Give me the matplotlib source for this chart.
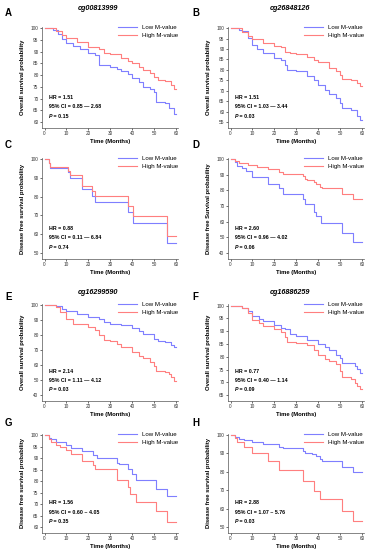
import matplotlib
matplotlib.use("Agg")
import matplotlib.pyplot as plt

plt.rcParams['font.family'] = ['Liberation Sans', 'DejaVu Sans']

# ---------------- data ----------------
titles = ["cg00813999", "cg26848126", None, None, "cg16299590", "cg16886259", None, None]
letters = ["A", "B", "C", "D", "E", "F", "G", "H"]
ylabels = ["Overall survival probability", "Overall survival probability",
           "Disease free survival probability", "Disease free Survival probability",
           "Overall survival probability", "Overall survival probability",
           "Disease free survival probability", "Disease free survival probability"]
ylow = [60, 55, 50, 40, 40, 65, 60, 50]
ystep = [5, 5, 10, 10, 10, 5, 5, 10]
hr_text = ["HR = 1.51", "HR = 1.51", "HR = 0.88", "HR = 2.60",
           "HR = 2.14", "HR = 0.77", "HR = 1.56", "HR = 2.88"]
ci_text = ["95% CI = 0.85 \u2014 2.68", "95% CI = 1.03 \u2014 3.44", "95% CI = 0.11 \u2014 6.84",
           "95% CI = 0.96 \u2014 4.02", "95% CI = 1.11 \u2014 4.12", "95% CI = 0.40 \u2014 1.14",
           "95% CI = 0.60 ~ 4.05", "95% CI = 1.07 ~ 5.76"]
p_text = ["0.15", "0.03", "0.74", "0.06", "0.03", "0.09", "0.35", "0.03"]
xticks = [0, 10, 20, 30, 40, 50, 60]

# Kaplan-Meier step points (time in months, survival %)
A_low_t = [0, 4, 6, 8, 10, 13, 16, 20, 23, 25, 30, 33, 35, 38, 40, 43, 45, 48, 50, 51, 55, 57, 59, 60]
A_low_s = [100, 99.5, 97.5, 95.5, 93.6, 92.5, 91, 89.3, 88.5, 84.3, 83.6, 82.5, 81.9, 80.5, 78.6, 77, 74.8, 74, 73, 68.7, 68, 65.8, 63.3, 63.3]
A_high_t = [0, 5, 8, 10, 15, 20, 25, 27, 30, 35, 38, 40, 43, 45, 48, 50, 52, 55, 58, 59, 60]
A_high_s = [100, 99, 97, 95.7, 94.3, 92.2, 91, 89.3, 88.9, 87.2, 86, 85, 83.5, 82.2, 80.8, 79.4, 78, 77.5, 75.8, 74, 74]

B_low_t = [0, 4, 5, 8, 10, 12, 15, 20, 23, 25, 26, 30, 35, 38, 40, 43, 45, 48, 50, 51, 55, 58, 59, 60]
B_low_s = [100, 99, 98.7, 95.2, 92, 90, 88, 85.6, 84.8, 82.5, 80, 79.6, 77.2, 75.3, 72.9, 70.5, 68.4, 66.5, 64.1, 61.7, 60.9, 57.7, 56.1, 56.1]
B_high_t = [0, 5, 8, 10, 15, 20, 23, 25, 27, 30, 35, 38, 40, 45, 48, 50, 51, 55, 58, 59, 60]
B_high_s = [100, 98.4, 96.5, 94.9, 92.8, 91.5, 90.9, 88.8, 88, 87.6, 86.1, 84.8, 84, 80.9, 79.7, 77.7, 75.8, 75.3, 73.7, 72.1, 72.1]

C_low_t = [0, 2, 2.5, 10.5, 11.5, 17, 21.5, 23, 38, 40.5, 56, 60]
C_low_s = [100, 97.7, 95.5, 93, 90.2, 84.1, 80.6, 77.1, 71.9, 65.9, 55.2, 55.2]
C_high_t = [0, 2, 2.5, 10.5, 11.5, 17, 21.5, 23, 38, 40.5, 56, 60]
C_high_s = [100, 98, 96, 93.7, 91.6, 85.8, 82.9, 80.2, 75, 69.8, 59.1, 59.1]

D_low_t = [0, 2, 3, 5, 7, 10, 17, 22, 24, 33, 34, 38, 39, 41.5, 51, 56, 60]
D_low_s = [100, 98.3, 95.8, 94.2, 92.1, 88.3, 83.8, 81.2, 77.9, 74.4, 71.2, 66, 63.3, 58.8, 52.5, 46.7, 46.7]
D_high_t = [0, 2, 4, 8, 12, 17, 22, 24, 33, 34, 35, 38, 39, 41, 42, 51, 56, 60]
D_high_s = [100, 98.8, 97.5, 96.3, 94.8, 93.3, 91.7, 90.6, 88.9, 87.5, 86.5, 85.2, 83.8, 82.3, 81.2, 77.9, 74.4, 74.4]

E_low_t = [0, 5, 8, 10, 15, 20, 25, 27, 30, 35, 40, 43, 45, 50, 52, 55, 58, 59, 60]
E_low_s = [100, 99.4, 97.4, 95.7, 94, 92.1, 90.4, 88.7, 87.6, 86.5, 84.4, 82.9, 80.7, 77.5, 75.8, 75.4, 73.2, 71.7, 71.7]
E_high_t = [0, 5, 7, 10, 13, 15, 20, 23, 25, 27, 30, 33, 35, 40, 43, 45, 48, 50, 51, 55, 57, 58, 59, 60]
E_high_s = [100, 98.9, 95.3, 90.4, 87.6, 87.2, 85, 83.3, 79.7, 76.4, 75.8, 74.3, 72.2, 69, 66.2, 64.7, 61.9, 59.3, 56.1, 55.7, 54, 51.8, 49.7, 49.7]

F_low_t = [0, 5, 8, 10, 13, 15, 20, 23, 25, 27, 30, 35, 40, 43, 45, 48, 50, 51, 55, 57, 58, 59, 60]
F_low_s = [100, 99, 97.8, 96, 94.7, 93.8, 92.3, 91.3, 90.7, 88.8, 88.2, 86.6, 85.1, 83.9, 82.6, 80.8, 79.5, 77.7, 77.4, 76.4, 75.2, 73.7, 73.7]
F_high_t = [0, 5, 8, 10, 13, 15, 20, 23, 25, 26, 30, 35, 38, 40, 43, 45, 48, 50, 51, 55, 57, 58, 59, 60]
F_high_s = [100, 99, 96.9, 94.4, 93.2, 91.9, 90.7, 89.5, 87.6, 85.7, 85.4, 84.5, 82.6, 80.8, 79.2, 78.3, 77, 74.6, 72.1, 71.5, 69.6, 68.4, 67.5, 67.5]

G_low_t = [0, 2, 3, 5, 10, 12, 17, 22, 24, 33, 34, 38, 40, 42, 51, 56, 60]
G_low_s = [100, 99, 98.2, 97, 95.8, 94.7, 93, 91.6, 90.2, 88.1, 87.4, 85.3, 83.2, 80.6, 76.8, 73.6, 73.6]
G_high_t = [0, 2, 3, 5, 7, 10, 12, 17, 22, 23, 33, 38, 39, 42, 51, 56, 60]
G_high_s = [100, 98.6, 97.2, 95.8, 94.8, 93.4, 92, 88.8, 86.9, 85.3, 80.4, 77.5, 74.3, 70.9, 67, 62.1, 62.1]

H_low_t = [0, 2, 4, 6, 10, 15, 22, 24, 33, 34, 37, 39, 41, 42, 51, 56, 60]
H_low_s = [100, 98.9, 98.1, 97.2, 96.3, 95.1, 93.7, 92.8, 91.3, 90.4, 89.5, 88.5, 86.9, 85.8, 82.9, 80.1, 80.1]
H_high_t = [0, 2, 3, 6, 10, 17, 22, 33, 38, 41, 51, 56, 60]
H_high_s = [100, 98.3, 96, 93.7, 90.2, 86, 81.1, 75.3, 69.8, 65, 58.9, 53.1, 53.1]

low_t = [A_low_t, B_low_t, C_low_t, D_low_t, E_low_t, F_low_t, G_low_t, H_low_t]
low_s = [A_low_s, B_low_s, C_low_s, D_low_s, E_low_s, F_low_s, G_low_s, H_low_s]
high_t = [A_high_t, B_high_t, C_high_t, D_high_t, E_high_t, F_high_t, G_high_t, H_high_t]
high_s = [A_high_s, B_high_s, C_high_s, D_high_s, E_high_s, F_high_s, G_high_s, H_high_s]

series_labels = ["Low M-value", "High M-value"]
blue = "#7f7fff"
red = "#ff7f7f"

# ---------------- layout ----------------
fig = plt.figure(figsize=(3.76, 5.5), dpi=100)
W, H = 376.0, 550.0
col_left = [42, 228]
col_w = 136
rows = [(27, 128), (158, 259), (304, 401), (434, 533)]
letter_y = [13, 145, 297, 423]
title_y = [8, None, 292, None]
fs = 3.8

for i in range(8):
    r, c = divmod(i, 2)
    top, bot = rows[r]
    ax = fig.add_axes([col_left[c] / W, 1 - bot / H, col_w / W, (bot - top) / H])
    ax.step(low_t[i], low_s[i], where='post', color=blue, lw=0.8, label=series_labels[0])
    ax.step(high_t[i], high_s[i], where='post', color=red, lw=0.8, label=series_labels[1])
    lo = ylow[i]
    rng = 100 - lo
    ax.set_ylim(lo - rng * 0.065, 100.6)
    ax.set_xlim(-1.2, 61)
    ax.set_yticks(list(range(lo, 101, ystep[i])))
    ax.set_xticks(xticks)
    ax.tick_params(labelsize=3.4, length=1.5, width=0.5, pad=1)
    for s in ['top', 'right']:
        ax.spines[s].set_visible(False)
    for s in ['left', 'bottom']:
        ax.spines[s].set_linewidth(0.5)
        ax.spines[s].set_color('#555555')
    ax.tick_params(colors='#333333')
    ax.set_xlabel("Time (Months)", fontsize=4.2, fontweight='bold', labelpad=1.5)
    ax.set_ylabel(ylabels[i], fontsize=4.2, fontweight='bold', labelpad=4)
    ax.legend(loc='upper right', bbox_to_anchor=(1.03, 1.06), frameon=False,
              fontsize=4.4, handlelength=3.2, handletextpad=0.8, labelspacing=0.45,
              borderaxespad=0.2)
    ax.text(0.05, 0.29, hr_text[i], transform=ax.transAxes, fontsize=fs, fontweight='bold')
    ax.text(0.05, 0.195, ci_text[i], transform=ax.transAxes, fontsize=fs, fontweight='bold')
    tp = ax.text(0.05, 0.10, "P", transform=ax.transAxes, fontsize=fs,
                 fontweight='bold', style='italic')
    ax.annotate(" = " + p_text[i], xy=(1, 0), xycoords=tp, va='bottom', ha='left',
                fontsize=fs, fontweight='bold')
    x_letter = 5 if c == 0 else 192
    fig.text(x_letter / W, 1 - letter_y[r] / H, letters[i], fontsize=7,
             fontweight='bold', va='center', ha='left')
    if titles[i]:
        xc = 98 if c == 0 else 290
        fig.text(xc / W, 1 - title_y[r] / H, titles[i], fontsize=5.2,
                 fontweight='bold', style='italic', ha='center', va='center')

fig.savefig("out.png", dpi=100)
